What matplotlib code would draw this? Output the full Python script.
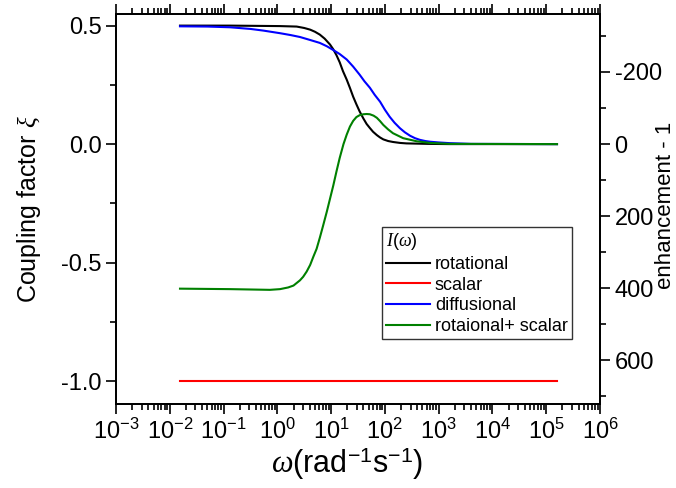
import numpy as np
import matplotlib
matplotlib.use('Agg')
import matplotlib.pyplot as plt
from matplotlib.ticker import MultipleLocator, LogLocator, NullFormatter

plt.rcParams['font.family'] = ['Liberation Sans', 'DejaVu Sans']
plt.rcParams['mathtext.fontset'] = 'custom'
plt.rcParams['mathtext.rm'] = 'Liberation Sans'
plt.rcParams['mathtext.it'] = 'Liberation Serif:italic'
plt.rcParams['axes.unicode_minus'] = False

# log10(omega) values, coupling factor xi
rot_logw = [-1.81, -0.88, 0.05, 0.36, 0.50, 0.61, 0.70, 0.79, 0.88, 0.98, 1.04, 1.10,
            1.16, 1.22, 1.29, 1.35, 1.41, 1.47, 1.53, 1.60, 1.66, 1.72, 1.78, 1.85,
            1.91, 1.97, 2.06, 2.15, 2.28, 2.40, 2.60, 2.80, 3.20, 5.20]
rot_xi = [0.500, 0.500, 0.498, 0.496, 0.490, 0.483, 0.474, 0.462, 0.445, 0.420, 0.400,
          0.375, 0.345, 0.308, 0.272, 0.237, 0.200, 0.168, 0.138, 0.108, 0.085, 0.068,
          0.052, 0.038, 0.028, 0.020, 0.013, 0.009, 0.005, 0.003, 0.002, 0.001, 0.0, 0.0]

diff_logw = [-1.81, -1.30, -0.88, -0.50, -0.26, 0.05, 0.25, 0.42, 0.60, 0.79, 0.92,
             1.04, 1.16, 1.29, 1.41, 1.53, 1.62, 1.72, 1.81, 1.91, 2.00, 2.09, 2.18,
             2.28, 2.37, 2.47, 2.56, 2.65, 2.75, 2.84, 3.00, 3.21, 3.60, 5.20]
diff_xi = [0.497, 0.496, 0.493, 0.486, 0.479, 0.468, 0.460, 0.452, 0.440, 0.427, 0.413,
           0.397, 0.380, 0.357, 0.327, 0.293, 0.265, 0.238, 0.208, 0.179, 0.145, 0.115,
           0.090, 0.067, 0.050, 0.035, 0.025, 0.018, 0.013, 0.010, 0.007, 0.004, 0.001, 0.0]

rs_logw = [-1.81, -0.88, -0.14, 0.05, 0.20, 0.30, 0.42, 0.48, 0.545, 0.61, 0.67, 0.73,
           0.79, 0.85, 0.92, 0.98, 1.04, 1.10, 1.16, 1.23, 1.29, 1.35, 1.41, 1.47,
           1.53, 1.60, 1.66, 1.72, 1.79, 1.85, 1.91, 1.97, 2.06, 2.15, 2.34, 2.59,
           2.84, 3.20, 5.20]
rs_xi = [-0.610, -0.612, -0.615, -0.612, -0.605, -0.597, -0.575, -0.560, -0.538, -0.510,
         -0.475, -0.442, -0.395, -0.345, -0.285, -0.230, -0.175, -0.115, -0.058, 0.000,
         0.040, 0.074, 0.098, 0.114, 0.122, 0.126, 0.127, 0.126, 0.120, 0.111, 0.097,
         0.081, 0.062, 0.046, 0.025, 0.012, 0.005, 0.001, 0.0]

scal_logw = [-1.81, 5.20]
scal_xi = [-1.0, -1.0]

fig = plt.figure(figsize=(6.76, 4.88), dpi=100)
ax = fig.add_axes([0.1716, 0.172, 0.716, 0.7993])

ax.plot(10**np.array(rot_logw), rot_xi, color='black', lw=1.5, label='rotational')
ax.plot(10**np.array(scal_logw), scal_xi, color='#ff0000', lw=1.5, label='scalar')
ax.plot(10**np.array(diff_logw), diff_xi, color='#0000ff', lw=1.5, label='diffusional')
ax.plot(10**np.array(rs_logw), rs_xi, color='#008000', lw=1.5, label='rotaional+ scalar')

ax.set_xscale('log')
ax.set_xlim(1e-3, 1e6)
ax.set_ylim(-1.097, 0.549)
ax.xaxis.set_major_locator(LogLocator(base=10, numticks=12))
ax.xaxis.set_minor_locator(LogLocator(base=10, subs=np.arange(2, 10), numticks=12))
ax.xaxis.set_minor_formatter(NullFormatter())
ax.yaxis.set_minor_locator(MultipleLocator(0.25))
ax.set_yticks([-1.0, -0.5, 0.0, 0.5])
ax.set_yticklabels(['-1.0', '-0.5', '0.0', '0.5'])

ax.tick_params(which='both', direction='out', top=True, right=False, labelsize=17, width=1.2)
ax.tick_params(which='major', length=7)
ax.tick_params(which='minor', length=4)
for s in ax.spines.values():
    s.set_linewidth(1.3)

ax.set_xlabel(r'$\omega$(rad$^{-1}$s$^{-1}$)', fontsize=22)
ax.xaxis.set_label_coords(0.477, -0.105)
ax.set_ylabel(r'Coupling factor $\xi$', fontsize=18)
ax.yaxis.set_label_coords(-0.151, 0.5)

ax2 = ax.twinx()
ax2.set_ylim(722, -361)
ax2.yaxis.set_minor_locator(MultipleLocator(100))
ax2.set_yticks([-200, 0, 200, 400, 600])
ax2.tick_params(which='both', direction='out', labelsize=17, width=1.2)
ax2.tick_params(which='major', length=7)
ax2.tick_params(which='minor', length=4)
for s in ax2.spines.values():
    s.set_linewidth(1.3)
ax2.set_ylabel('enhancement - 1', fontsize=16)
ax2.yaxis.set_label_coords(1.113, 0.51)

leg = ax.legend(title=r'$I(\omega)$', loc='upper left', bbox_to_anchor=(0.549, 0.454),
                fontsize=13, title_fontsize=13, frameon=True, fancybox=False,
                edgecolor='black', handlelength=2.4, handletextpad=0.3,
                labelspacing=0.2, borderpad=0.25, borderaxespad=0)
leg._legend_box.align = 'left'
leg.get_frame().set_linewidth(1.0)

fig.savefig('out.png', dpi=100)
